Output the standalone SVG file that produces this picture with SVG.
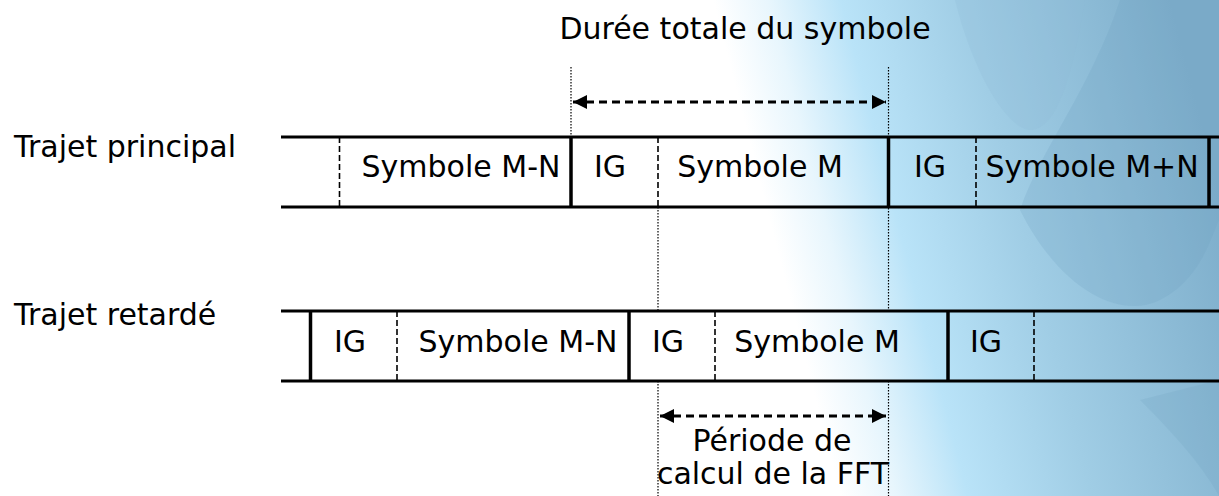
<svg xmlns="http://www.w3.org/2000/svg" width="1219" height="496" viewBox="0 0 1219 496">
  <defs>
    <linearGradient id="bg" gradientUnits="userSpaceOnUse" x1="790" y1="300" x2="1219" y2="190">
      <stop offset="0" stop-color="#ffffff"/>
      <stop offset="0.12" stop-color="#e8f6fd"/>
      <stop offset="0.28" stop-color="#b9e3f8"/>
      <stop offset="0.55" stop-color="#a0cde5"/>
      <stop offset="1" stop-color="#7eaecb"/>
    </linearGradient>
    <marker id="ah" viewBox="0 0 14 14" refX="14" refY="7" markerWidth="14" markerHeight="14" markerUnits="userSpaceOnUse" orient="auto-start-reverse">
      <path d="M0,0 L14,7 L0,14 Z" fill="#000"/>
    </marker>
    <style>
      .t { font-family: "DejaVu Sans", "Liberation Sans", sans-serif; font-size: 30px; fill: #000; }
      .band { stroke: #000; stroke-width: 3; fill: none; }
      .solid { stroke: #000; stroke-width: 3.5; }
      .dash { stroke: #000; stroke-width: 1.6; stroke-dasharray: 6 3; }
      .dot { stroke: #000; stroke-width: 1.2; stroke-dasharray: 1.5 1.5; fill: none; }
      .arrow { stroke: #000; stroke-width: 3; stroke-dasharray: 8 5; fill: none; }
    </style>
  </defs>

  <!-- background -->
  <rect width="1219" height="496" fill="url(#bg)"/>
  <path d="M955,0 C975,80 1010,130 1030,130 C1060,130 1075,60 1085,0 Z" fill="#8fbdd8" opacity="0.25"/>
  <path d="M1020,210 C1060,290 1120,320 1160,300 C1200,280 1210,240 1219,220 L1219,0 L1120,0 C1090,90 1040,150 1020,210 Z" fill="#6f9fbe" opacity="0.22"/>
  <path d="M1140,400 C1180,440 1205,470 1219,496 L1219,380 Z" fill="#6f9fbe" opacity="0.2"/>

  <!-- connectors -->
  <g id="connectors">
    <line class="dot" x1="571" y1="67" x2="571" y2="137"/>
    <line class="dot" x1="888.5" y1="67" x2="888.5" y2="311"/>
    <line class="dot" x1="888.5" y1="381" x2="888.5" y2="496"/>
    <line class="dot" x1="658" y1="207" x2="658" y2="311"/>
    <line class="dot" x1="658" y1="381" x2="658" y2="496"/>
    <line class="arrow" x1="573" y1="102" x2="886" y2="102" marker-start="url(#ah)" marker-end="url(#ah)"/>
    <line class="arrow" x1="660" y1="416" x2="886" y2="416" marker-start="url(#ah)" marker-end="url(#ah)"/>
  </g>

  <!-- labels -->
  <g id="title">
    <text class="t" x="745" y="39" text-anchor="middle">Durée totale du symbole</text>
  </g>
  <g id="label-principal">
    <text class="t" x="14" y="157">Trajet principal</text>
  </g>
  <g id="label-retarde">
    <text class="t" x="14" y="325">Trajet retardé</text>
  </g>

  <!-- row 1: trajet principal -->
  <g id="row-principal">
    <line class="band" x1="281" y1="137" x2="1219" y2="137"/>
    <line class="band" x1="281" y1="207" x2="1219" y2="207"/>
    <line class="dash" x1="339.5" y1="137" x2="339.5" y2="207"/>
    <line class="solid" x1="571" y1="137" x2="571" y2="207"/>
    <line class="dash" x1="658" y1="137" x2="658" y2="207"/>
    <line class="solid" x1="888.5" y1="137" x2="888.5" y2="207"/>
    <line class="dash" x1="976" y1="137" x2="976" y2="207"/>
    <line class="solid" x1="1209" y1="137" x2="1209" y2="207"/>
    <text class="t" x="461" y="177" text-anchor="middle">Symbole M-N</text>
    <text class="t" x="610" y="177" text-anchor="middle">IG</text>
    <text class="t" x="760" y="177" text-anchor="middle">Symbole M</text>
    <text class="t" x="930" y="177" text-anchor="middle">IG</text>
    <text class="t" x="1092" y="177" text-anchor="middle">Symbole M+N</text>
  </g>

  <!-- row 2: trajet retardé -->
  <g id="row-retarde">
    <line class="band" x1="281" y1="311" x2="1219" y2="311"/>
    <line class="band" x1="281" y1="381" x2="1219" y2="381"/>
    <line class="solid" x1="310.5" y1="311" x2="310.5" y2="381"/>
    <line class="dash" x1="397" y1="311" x2="397" y2="381"/>
    <line class="solid" x1="629" y1="311" x2="629" y2="381"/>
    <line class="dash" x1="715" y1="311" x2="715" y2="381"/>
    <line class="solid" x1="948" y1="311" x2="948" y2="381"/>
    <line class="dash" x1="1034" y1="311" x2="1034" y2="381"/>
    <text class="t" x="350" y="352" text-anchor="middle">IG</text>
    <text class="t" x="518" y="352" text-anchor="middle">Symbole M-N</text>
    <text class="t" x="668" y="352" text-anchor="middle">IG</text>
    <text class="t" x="817" y="352" text-anchor="middle">Symbole M</text>
    <text class="t" x="986" y="352" text-anchor="middle">IG</text>
  </g>

  <g id="fft-label">
    <text class="t" x="772" y="451" text-anchor="middle">Période de</text>
    <text class="t" x="773" y="484" text-anchor="middle">calcul de la FFT</text>
  </g>
</svg>
